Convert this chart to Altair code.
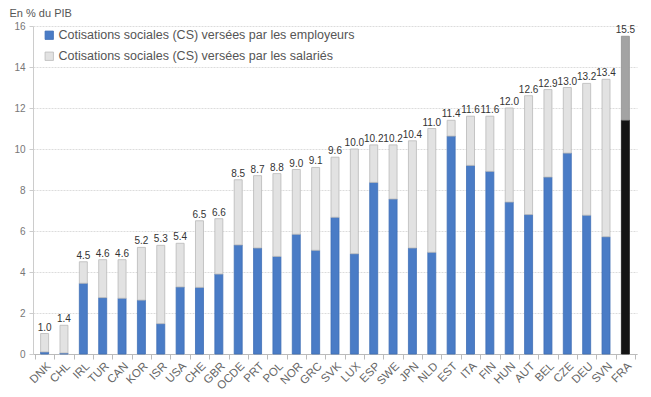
import altair as alt
import pandas as pd

countries = ["DNK","CHL","IRL","TUR","CAN","KOR","ISR","USA","CHE","GBR","OCDE","PRT","POL","NOR","GRC","SVK","LUX","ESP","SWE","JPN","NLD","EST","ITA","FIN","HUN","AUT","BEL","CZE","DEU","SVN","FRA"]
totals = [1.0,1.4,4.5,4.6,4.6,5.2,5.3,5.4,6.5,6.6,8.5,8.7,8.8,9.0,9.1,9.6,10.0,10.2,10.2,10.4,11.0,11.4,11.6,11.6,12.0,12.6,12.9,13.0,13.2,13.4,15.5]
employers = [0.1,0.05,3.45,2.75,2.72,2.63,1.48,3.27,3.25,3.9,5.32,5.17,4.76,5.84,5.06,6.67,4.89,8.37,7.56,5.17,4.96,10.63,9.2,8.91,7.41,6.8,8.63,9.8,6.77,5.72,11.41]

S_EMP = "Cotisations sociales (CS) versées par les employeurs"
S_SAL = "Cotisations sociales (CS) versées par les salariés"
S_EMP_F = "FRA employeurs"
S_SAL_F = "FRA salariés"

rows = []
for c, t, e in zip(countries, totals, employers):
    fra = c == "FRA"
    rows.append({"pays": c, "serie": S_EMP_F if fra else S_EMP, "valeur": e, "ordre": 0})
    rows.append({"pays": c, "serie": S_SAL_F if fra else S_SAL, "valeur": round(t - e, 3), "ordre": 1})
df = pd.DataFrame(rows)
df_tot = pd.DataFrame({"pays": countries, "total": totals})

FONT = "Liberation Sans"
x_enc = alt.X("pays:N", sort=countries, title=None,
              scale=alt.Scale(paddingInner=0, paddingOuter=0.1),
              axis=alt.Axis(labelAngle=-45, labelFontSize=11.5, labelColor="#666",
                            labelFont=FONT, domainColor="#bbb", tickColor="#bbb",
                            tickBand="extent", tickSize=5, labelPadding=1))

series = [S_EMP, S_SAL, S_EMP_F, S_SAL_F]
fills = ["#4a7cc6", "#e2e2e2", "#141414", "#a3a3a3"]
strokes = ["#3f6fb5", "#b9b9b9", "#141414", "#8f8f8f"]

bars = alt.Chart(df).mark_bar(size=8, strokeWidth=0.8).encode(
    x=x_enc,
    y=alt.Y("valeur:Q", stack="zero",
            scale=alt.Scale(domain=[0, 16], nice=False),
            axis=alt.Axis(values=list(range(0, 17, 2)), title="En % du PIB",
                          titleAngle=0, titleX=-24, titleY=-13, titleAlign="left",
                          titleBaseline="middle", titleFont=FONT, titleFontSize=11,
                          titleFontWeight="normal", titleColor="#555",
                          labelFontSize=10, labelColor="#777", labelFont=FONT,
                          domainColor="#ccc", tickColor="#ccc", tickSize=4,
                          gridColor="#dcdcdc", gridDash=[2, 1], labelPadding=4)),
    color=alt.Color("serie:N", scale=alt.Scale(domain=series, range=fills),
                    legend=alt.Legend(values=[S_EMP, S_SAL], title=None, orient="none",
                                      legendX=10, legendY=3, symbolType="square",
                                      symbolSize=70, symbolStrokeWidth=0.8,
                                      labelFontSize=12.5, labelFont=FONT, labelColor="#555",
                                      labelOffset=3, rowPadding=8, labelLimit=400)),
    stroke=alt.Stroke("serie:N", scale=alt.Scale(domain=series, range=strokes), legend=None),
    order=alt.Order("ordre:Q", sort="ascending"),
)

labels = alt.Chart(df_tot).mark_text(dy=-6, fontSize=10, font=FONT, color="#333").encode(
    x=alt.X("pays:N", sort=countries),
    y=alt.Y("total:Q"),
    text=alt.Text("total:Q", format=".1f"),
)

chart = alt.layer(bars, labels).properties(
    width=604, height=328,
    autosize=alt.AutoSizeParams(type="none"),
    padding={"left": 25, "top": 18, "right": 6, "bottom": 42},
).configure_view(stroke=None).configure_axisX(grid=False)

chart.save("out.html", embed_options={"renderer": "svg", "actions": False})
